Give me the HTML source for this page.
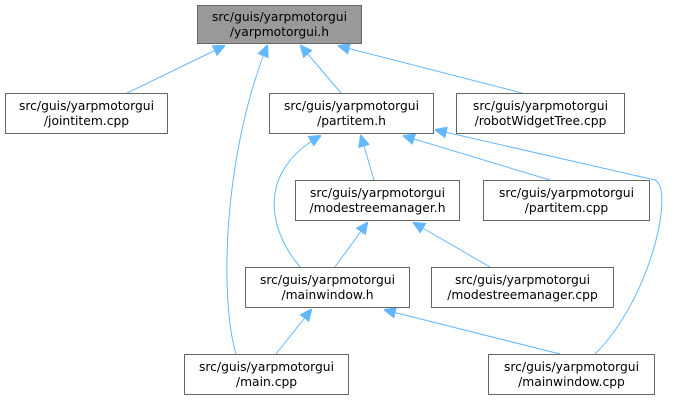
<!DOCTYPE html>
<html><head><meta charset="utf-8"><style>
html,body{margin:0;padding:0;background:#fff}
svg{display:block}
text{font-family:"DejaVu Sans","Liberation Sans",sans-serif;font-size:12.3px;fill:#000}
</style></head><body>
<svg width="682" height="403" viewBox="0 0 682 403" xmlns="http://www.w3.org/2000/svg">
<defs>
<marker id="a" viewBox="0 0 10 10" refX="9" refY="5" markerWidth="12" markerHeight="12" markerUnits="userSpaceOnUse" orient="auto">
<path d="M0,0.5 L10,5 L0,9.5 z" fill="#63b8ff" stroke="#63b8ff"/>
</marker>
</defs>
<g fill="none" stroke="#63b8ff" stroke-width="1" marker-end="url(#a)">
<path d="M127,93 L224,46"/>
<path d="M236,354 C220,300 222,160 267,46"/>
<path d="M341,93 L301,46"/>
<path d="M522,93 L339,46"/>
<path d="M374,180 L361,136"/>
<path d="M300,267 C265,225 260,170 320,136"/>
<path d="M550,180 L404,136"/>
<path d="M595,354 C650,300 675,190 655,180 L436,130"/>
<path d="M335,267 L367,223"/>
<path d="M490,267 L414,223"/>
<path d="M276,354 L311,310"/>
<path d="M560,354 L385,310"/>
</g>
<g stroke="#666" stroke-width="1">
<rect x="197.5" y="5.5" width="164" height="38" fill="#999"/>
<rect x="5.5" y="93.5" width="162" height="40" fill="#fff"/>
<rect x="269.5" y="93.5" width="164" height="40" fill="#fff"/>
<rect x="456.5" y="93.5" width="168" height="40" fill="#fff"/>
<rect x="295.5" y="180.5" width="164" height="40" fill="#fff"/>
<rect x="483.5" y="180.5" width="166" height="40" fill="#fff"/>
<rect x="245.5" y="267.5" width="164" height="40" fill="#fff"/>
<rect x="431.5" y="267.5" width="182" height="40" fill="#fff"/>
<rect x="184.5" y="354.5" width="164" height="40" fill="#fff"/>
<rect x="488.5" y="354.5" width="166" height="40" fill="#fff"/>
</g>
<g text-anchor="middle">
<text x="279.5" y="21">src/guis/yarpmotorgui</text><text x="279.5" y="36">/yarpmotorgui.h</text>
<text x="86.5" y="110">src/guis/yarpmotorgui</text><text x="86.5" y="125">/jointitem.cpp</text>
<text x="351.5" y="110">src/guis/yarpmotorgui</text><text x="351.5" y="125">/partitem.h</text>
<text x="540.5" y="110">src/guis/yarpmotorgui</text><text x="540.5" y="125">/robotWidgetTree.cpp</text>
<text x="377.5" y="197">src/guis/yarpmotorgui</text><text x="377.5" y="212">/modestreemanager.h</text>
<text x="566.5" y="197">src/guis/yarpmotorgui</text><text x="566.5" y="212">/partitem.cpp</text>
<text x="327.5" y="284">src/guis/yarpmotorgui</text><text x="327.5" y="299">/mainwindow.h</text>
<text x="522.5" y="284">src/guis/yarpmotorgui</text><text x="522.5" y="299">/modestreemanager.cpp</text>
<text x="266.5" y="371">src/guis/yarpmotorgui</text><text x="266.5" y="386">/main.cpp</text>
<text x="571.5" y="371">src/guis/yarpmotorgui</text><text x="571.5" y="386">/mainwindow.cpp</text>
</g>
</svg>
</body></html>
